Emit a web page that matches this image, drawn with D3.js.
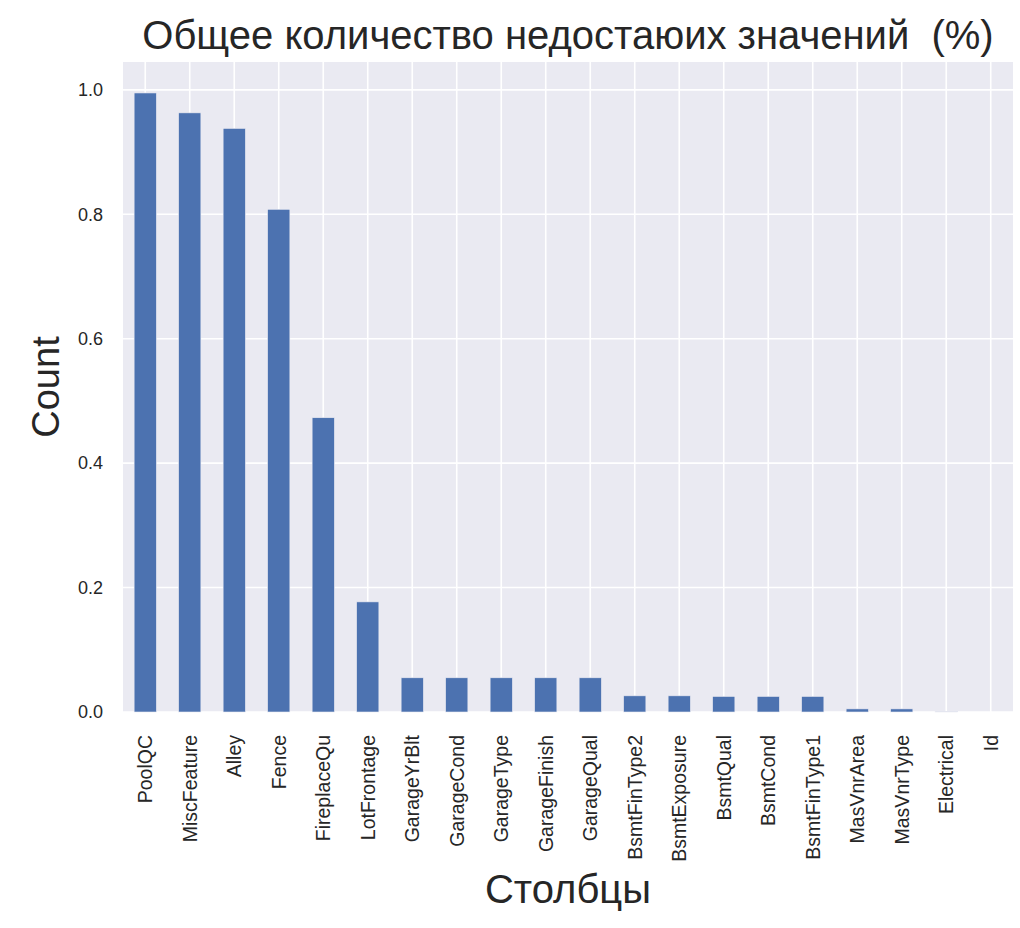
<!DOCTYPE html>
<html>
<head>
<meta charset="utf-8">
<script src="https://cdn.jsdelivr.net/npm/d3@7"></script>
<style>
  body { margin: 0; background: #fff; }
  text { font-family: "Liberation Sans", Arial, sans-serif; }
</style>
</head>
<body>
<svg id="chart" width="1020" height="928"></svg>
<script>
// share of missing values per column
var columns = ["PoolQC", "MiscFeature", "Alley", "Fence", "FireplaceQu", "LotFrontage",
  "GarageYrBlt", "GarageCond", "GarageType", "GarageFinish", "GarageQual",
  "BsmtFinType2", "BsmtExposure", "BsmtQual", "BsmtCond", "BsmtFinType1",
  "MasVnrArea", "MasVnrType", "Electrical", "Id"];
var missing = [0.995, 0.963, 0.938, 0.808, 0.473, 0.177,
  0.055, 0.055, 0.055, 0.055, 0.055,
  0.026, 0.026, 0.025, 0.025, 0.025,
  0.005, 0.005, 0.0007, 0];
var yTicks = [0, 0.2, 0.4, 0.6, 0.8, 1.0];

var title = "Общее количество недостаюих значений  (%)";
var xTitle = "Столбцы";
var yTitle = "Count";

var margin = { left: 123, right: 7, top: 62, bottom: 216 };
var svg = d3.select("#chart");
var width = +svg.attr("width") - margin.left - margin.right;
var height = +svg.attr("height") - margin.top - margin.bottom;

var x = d3.scaleBand().domain(columns).range([0, width]).padding(0);
var y = d3.scaleLinear().domain([0, d3.max(missing) * 1.05]).range([height, 0]);

var g = svg.append("g")
  .attr("transform", "translate(" + margin.left + "," + margin.top + ")");

g.append("rect")
  .attr("width", width)
  .attr("height", height)
  .attr("fill", "#EAEAF2");

// grid
g.selectAll(".hgrid").data(yTicks).enter().append("line")
  .attr("x1", 0).attr("x2", width)
  .attr("y1", d => y(d)).attr("y2", d => y(d))
  .attr("stroke", "#fff").attr("stroke-width", 1.6);

g.selectAll(".vgrid").data(columns).enter().append("line")
  .attr("x1", d => x(d) + x.bandwidth() / 2)
  .attr("x2", d => x(d) + x.bandwidth() / 2)
  .attr("y1", 0).attr("y2", height)
  .attr("stroke", "#fff").attr("stroke-width", 1.6);

// bars
var bw = x.bandwidth() * 0.5;
g.selectAll(".bar").data(missing).enter().append("rect")
  .attr("x", (d, i) => x(columns[i]) + x.bandwidth() / 2 - bw / 2)
  .attr("y", d => y(d))
  .attr("width", bw)
  .attr("height", d => height - y(d))
  .attr("fill", "#4C72B0")
  .attr("stroke", "#EAEAF2")
  .attr("stroke-width", 0.6);

// y axis
var yAxis = g.append("g")
  .call(d3.axisLeft(y).tickValues(yTicks).tickFormat(d3.format(".1f")).tickSize(0).tickPadding(20));
yAxis.select(".domain").remove();
yAxis.selectAll("text").attr("font-size", 18).attr("fill", "#262626");

// x axis
var xAxis = g.append("g")
  .attr("transform", "translate(0," + height + ")")
  .call(d3.axisBottom(x).tickSize(0).tickPadding(0));
xAxis.select(".domain").remove();
xAxis.selectAll("text")
  .attr("font-size", 19.5)
  .attr("fill", "#262626")
  .attr("transform", "rotate(-90)")
  .attr("text-anchor", "end")
  .attr("x", -23)
  .attr("y", 0)
  .attr("dy", "0.35em");

// titles
svg.append("text")
  .attr("x", margin.left + width / 2)
  .attr("y", 49)
  .attr("text-anchor", "middle")
  .attr("font-size", 40)
  .attr("fill", "#262626")
  .style("white-space", "pre")
  .text(title);

svg.append("text")
  .attr("x", margin.left + width / 2)
  .attr("y", 903)
  .attr("text-anchor", "middle")
  .attr("font-size", 40)
  .attr("fill", "#262626")
  .text(xTitle);

svg.append("text")
  .attr("transform", "translate(59," + (margin.top + height / 2) + ") rotate(-90)")
  .attr("text-anchor", "middle")
  .attr("font-size", 38)
  .attr("fill", "#262626")
  .text(yTitle);
</script>
</body>
</html>
